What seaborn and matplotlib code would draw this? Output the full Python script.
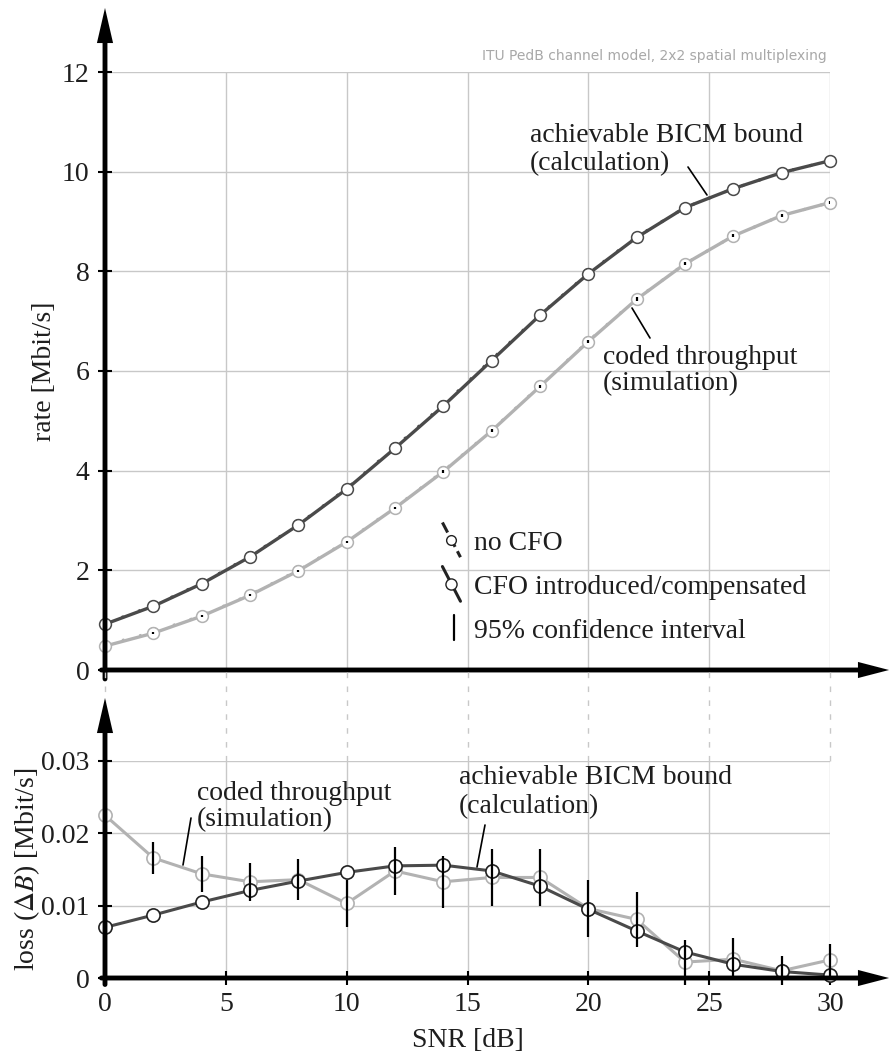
import numpy as np
import pandas as pd
import matplotlib
matplotlib.use("Agg")
import matplotlib.pyplot as plt
import seaborn as sns
from matplotlib.lines import Line2D
from matplotlib.legend_handler import HandlerBase

# ---------------- data ----------------
snr = [0, 2, 4, 6, 8, 10, 12, 14, 16, 18, 20, 22, 24, 26, 28, 30]

bound_nocfo = [0.93, 1.29, 1.74, 2.28, 2.92, 3.64, 4.47, 5.32, 6.23, 7.13, 7.96, 8.69, 9.28, 9.66, 9.98, 10.22]
bound_cfo = [0.92, 1.28, 1.73, 2.27, 2.91, 3.63, 4.45, 5.30, 6.21, 7.12, 7.95, 8.68, 9.28, 9.66, 9.98, 10.22]
tput_nocfo = [0.50, 0.76, 1.09, 1.51, 2.00, 2.58, 3.26, 3.99, 4.81, 5.70, 6.60, 7.45, 8.15, 8.71, 9.12, 9.38]
tput_cfo = [0.48, 0.74, 1.08, 1.50, 1.99, 2.57, 3.25, 3.98, 4.80, 5.69, 6.59, 7.44, 8.15, 8.71, 9.12, 9.38]
tput_ci_top = [0.02, 0.02, 0.02, 0.02, 0.02, 0.02, 0.025, 0.03, 0.03, 0.03, 0.035, 0.035, 0.03, 0.03, 0.03, 0.03]

bound_loss = [0.0070, 0.0087, 0.0105, 0.0121, 0.0134, 0.0146, 0.0155, 0.0156,
              0.0148, 0.0127, 0.0095, 0.0065, 0.0036, 0.0019, 0.0009, 0.0004]
tput_loss = [0.0225, 0.0166, 0.0144, 0.0133, 0.0136, 0.0103, 0.0148, 0.0133,
             0.0139, 0.0139, 0.0096, 0.0081, 0.0022, 0.0026, 0.0010, 0.0025]
tput_loss_ci = [0.0026, 0.0022, 0.0025, 0.0026, 0.0028, 0.0032, 0.0033, 0.0036,
                0.0039, 0.0040, 0.0040, 0.0038, 0.0031, 0.0029, 0.0020, 0.0022]

top_xticks = [0, 5, 10, 15, 20, 25, 30]
top_yticks = [0, 2, 4, 6, 8, 10, 12]
bot_yticks = [0, 0.01, 0.02, 0.03]
bot_yticklabels = ["0", "0.01", "0.02", "0.03"]

df_top = pd.DataFrame({"snr": snr, "bound_nocfo": bound_nocfo, "bound_cfo": bound_cfo,
                       "tput_nocfo": tput_nocfo, "tput_cfo": tput_cfo})
df_bot = pd.DataFrame({"snr": snr, "bound_loss": bound_loss, "tput_loss": tput_loss})

# ---------------- style ----------------
sns.set_theme(style="white")
plt.rcParams["font.family"] = ["Liberation Serif", "DejaVu Serif"]
plt.rcParams["mathtext.fontset"] = "stix"

DARK = "#4a4a4a"
LIGHT = "#b2b2b2"
GRID = "#c8c8c8"
TXT = "#1e1e1e"
FS = 20

W, H = 890, 1053
fig = plt.figure(figsize=(W / 100, H / 100), dpi=100)


def rect(l, t, r, b):
    return [l / W, 1 - b / H, (r - l) / W, (b - t) / H]


ax1 = fig.add_axes(rect(105, 72, 830, 670))
ax2 = fig.add_axes(rect(105, 761, 830, 978))

# ---------------- top panel ----------------
dot_ls = (0, (0.8, 5))
for col, c, ms in [("tput_nocfo", LIGHT, 7), ("bound_nocfo", DARK, 7)]:
    sns.lineplot(data=df_top, x="snr", y=col, ax=ax1, color=c, lw=2.2, linestyle=dot_ls,
                 marker="o", ms=ms, mfc="white", mec=c, mew=1.0, errorbar=None,
                 zorder=3, clip_on=False)
for col, c in [("tput_cfo", LIGHT), ("bound_cfo", DARK)]:
    sns.lineplot(data=df_top, x="snr", y=col, ax=ax1, color=c, lw=2.4,
                 marker="o", ms=8.5, mfc="white", mec=c, mew=1.1, errorbar=None,
                 zorder=4, clip_on=False)
ax1.errorbar(snr, tput_cfo, yerr=tput_ci_top, fmt="none", ecolor="black",
             elinewidth=1.6, capsize=0, zorder=6)

ax1.set_xlim(0, 30)
ax1.set_ylim(0, 12)
ax1.set_xticks(top_xticks)
ax1.set_yticks(top_yticks)
ax1.grid(True, color=GRID, lw=1)
ax1.tick_params(axis="x", bottom=False, labelbottom=False, length=0)
ax1.tick_params(axis="y", left=True, direction="inout", length=10, width=1.5,
                pad=6, labelsize=FS, labelcolor=TXT, color="black")
ax1.set_xlabel("")
ax1.set_ylabel("rate [Mbit/s]", fontsize=FS, color=TXT)
ax1.yaxis.set_label_coords(-0.066, 0.5)

# ---------------- bottom panel ----------------
sns.lineplot(data=df_bot, x="snr", y="tput_loss", ax=ax2, color=LIGHT, lw=2.2,
             marker="o", ms=9.5, mfc="white", mec=LIGHT, mew=1.2, errorbar=None,
             zorder=3, clip_on=False)
sns.lineplot(data=df_bot, x="snr", y="bound_loss", ax=ax2, color=DARK, lw=2.2,
             marker="o", ms=9.5, mfc="white", mec="#222222", mew=1.2, errorbar=None,
             zorder=4, clip_on=False)
ax2.errorbar(snr, tput_loss, yerr=tput_loss_ci, fmt="none", ecolor="black",
             elinewidth=1.6, capsize=0, zorder=6, clip_on=False)

ax2.set_xlim(0, 30)
ax2.set_ylim(0, 0.03)
ax2.set_xticks(top_xticks)
ax2.set_yticks(bot_yticks)
ax2.set_yticklabels(bot_yticklabels)
ax2.grid(True, color=GRID, lw=1)
ax2.tick_params(axis="both", direction="inout", length=10, width=1.5,
                labelsize=FS, labelcolor=TXT, color="black")
ax2.tick_params(axis="x", bottom=True, pad=5)
ax2.tick_params(axis="y", left=True, pad=6)
ax2.set_xlabel("SNR [dB]", fontsize=FS, color=TXT, labelpad=8)
ax2.set_ylabel(r"loss ($\mathit{\Delta B}$) [Mbit/s]", fontsize=FS, color=TXT)
ax2.yaxis.set_label_coords(-0.087, 0.5)

# dashed grid continuation between panels
ax2.vlines(top_xticks, 0.03, 0.03 + (761 - 671) / 7233, colors=GRID, lw=1,
           linestyles=(0, (4, 6)), clip_on=False, zorder=0)

for ax in (ax1, ax2):
    for s in ax.spines.values():
        s.set_visible(False)


# ---------------- axis arrows (stem + filled head) ----------------
def axis_arrow(ax, start, end, head_len_px=34):
    # stem
    ax.annotate("", xy=end, xytext=start, xycoords="axes fraction",
                textcoords="axes fraction",
                arrowprops=dict(arrowstyle="-", lw=3.5, color="black",
                                shrinkA=0, shrinkB=head_len_px * 0.72 * 0.6),
                annotation_clip=False, zorder=10)
    # head (filled, no stroke)
    bb = ax.get_position()
    ex, ey = end
    sx, sy = start
    dx = (ex - sx) * bb.width * W
    dy = (ey - sy) * bb.height * H
    L = (dx ** 2 + dy ** 2) ** 0.5
    bx = ex - (dx / L) * (head_len_px + 2) / (bb.width * W)
    by = ey - (dy / L) * (head_len_px + 2) / (bb.height * H)
    ax.annotate("", xy=end, xytext=(bx, by), xycoords="axes fraction",
                textcoords="axes fraction",
                arrowprops=dict(arrowstyle="-|>,head_length=%.3f,head_width=0.29"
                                % (head_len_px * 0.72 / 20),
                                lw=0.01, color="black", mutation_scale=20,
                                shrinkA=0, shrinkB=0),
                annotation_clip=False, zorder=11)


axis_arrow(ax1, (0, -0.015), (0, 1 + (72 - 8) / 598), 35)
axis_arrow(ax1, (-0.005, 0), ((889 - 105) / 725, 0), 31)
axis_arrow(ax2, (0, -0.03), (0, 1 + (761 - 698) / 217), 35)
axis_arrow(ax2, (-0.005, 0), ((889 - 105) / 725, 0), 31)


# ---------------- annotations ----------------
def ftext(x, y, s, **kw):
    fig.text(x / W, 1 - y / H, s, ha="left", va="center", fontsize=FS, color=TXT, **kw)


def leader(x0, y0, x1, y1):
    fig.add_artist(Line2D([x0 / W, x1 / W], [1 - y0 / H, 1 - y1 / H],
                          transform=fig.transFigure, color="black", lw=1.2))


ftext(530, 136, "achievable BICM bound")
ftext(530, 164, "(calculation)")
leader(688, 167, 707, 195)

ftext(603, 357, "coded throughput")
ftext(603, 384, "(simulation)")
leader(632, 308, 650, 338)

ftext(459, 778, "achievable BICM bound")
ftext(459, 807, "(calculation)")
leader(485, 825, 477, 867)

ftext(197, 793, "coded throughput")
ftext(197, 820, "(simulation)")
leader(191, 818, 183, 865)

fig.text(827 / W, 1 - 56 / H, "ITU PedB channel model, 2x2 spatial multiplexing",
         ha="right", va="center", color="#a8a8a8", fontsize=10, family="DejaVu Sans")


# ---------------- legend ----------------
class DiagHandler(HandlerBase):
    def __init__(self, vertical=False, **kw):
        super().__init__(**kw)
        self.vertical = vertical

    def create_artists(self, legend, orig_handle, xdescent, ydescent, width, height,
                       fontsize, trans):
        cx = -xdescent + width / 2
        cy = -ydescent + height / 2
        if self.vertical:
            line = Line2D([cx + 2, cx + 2], [cy - 9, cy + 9], color="black", lw=1.6)
            line.set_transform(trans)
            return [line]
        line = Line2D([cx - 6.5, cx + 6.5], [cy + 12.5, cy - 12.5],
                      color=orig_handle.get_color(), lw=orig_handle.get_linewidth(),
                      linestyle=orig_handle.get_linestyle())
        mark = Line2D([cx], [cy], marker="o", ms=orig_handle.get_markersize(),
                      mfc="white", mec=orig_handle.get_color(), mew=1.0, linestyle="none")
        line.set_transform(trans)
        mark.set_transform(trans)
        return [line, mark]


h_nocfo = Line2D([], [], color="#222222", lw=2.2, linestyle=dot_ls, marker="o", ms=7)
h_cfo = Line2D([], [], color="#222222", lw=2.2, linestyle="-", marker="o", ms=8)
h_ci = Line2D([], [], color="black", lw=1.6)
leg = ax1.legend([h_nocfo, h_cfo, h_ci],
                 ["no CFO", "CFO introduced/compensated", "95% confidence interval"],
                 handler_map={h_nocfo: DiagHandler(), h_cfo: DiagHandler(),
                              h_ci: DiagHandler(vertical=True)},
                 loc="upper left", bbox_to_anchor=(432 / W, 1 - 519 / H),
                 bbox_transform=fig.transFigure, frameon=False, fontsize=FS,
                 handlelength=0.6, handletextpad=0.5, labelspacing=0.67,
                 borderaxespad=0)
for t in leg.get_texts():
    t.set_color(TXT)

fig.savefig("out.png", dpi=100)
